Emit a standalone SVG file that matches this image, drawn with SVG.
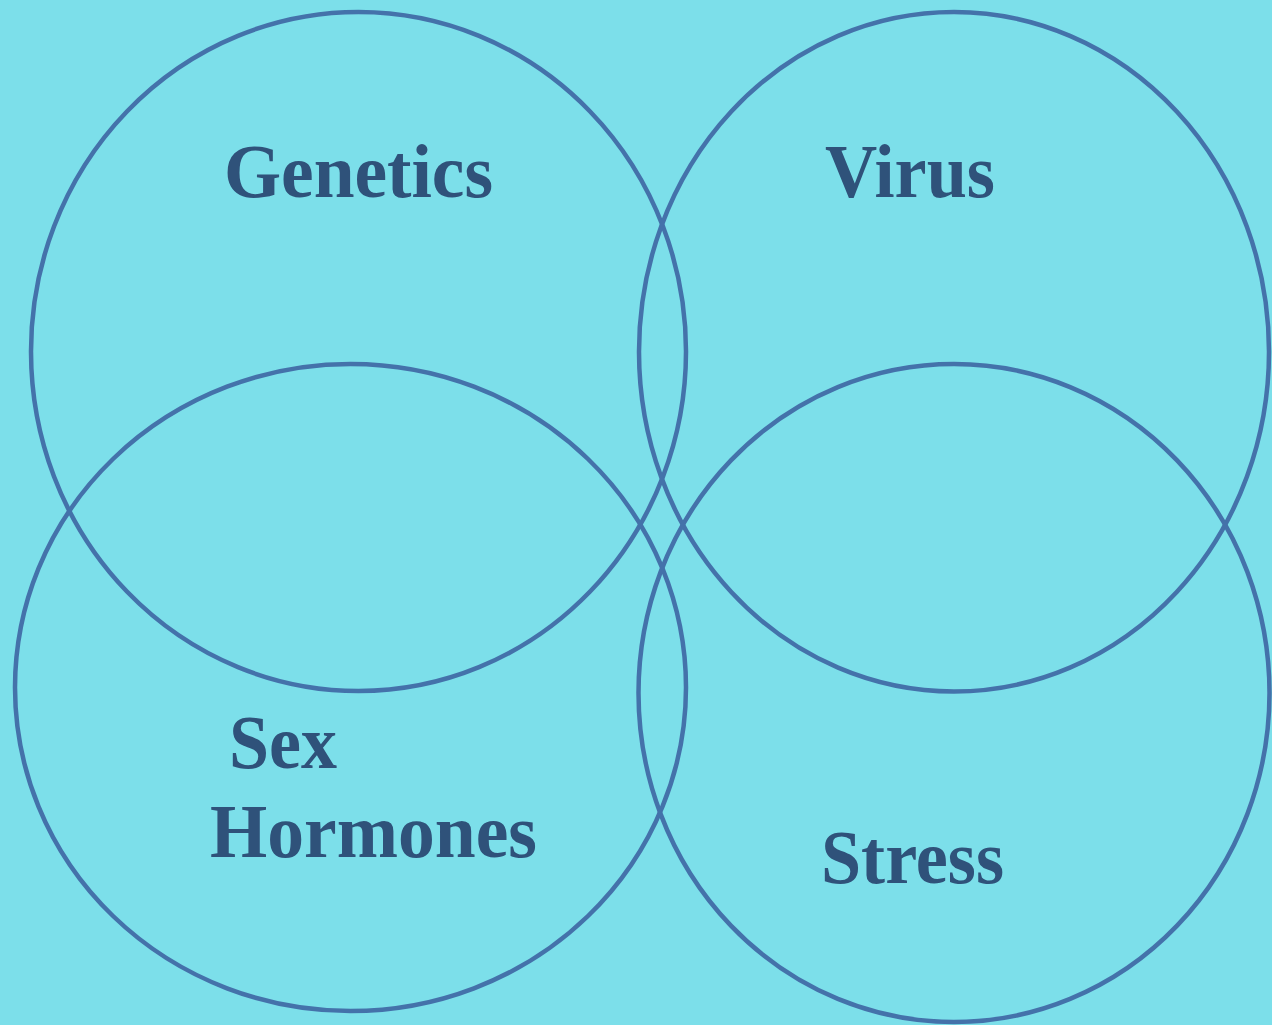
<svg xmlns="http://www.w3.org/2000/svg" width="1272" height="1025" viewBox="0 0 1272 1025">
<style>
.c{fill:none;stroke:#4472AA;stroke-width:4.5}
.t{font-family:"Liberation Serif","Times New Roman",serif;font-weight:bold;font-size:76px;fill:#2F527A}
</style>
<rect width="1272" height="1025" fill="#7CDFEA"/>
<g id="genetics">
<ellipse class="c" cx="358.5" cy="351.5" rx="327.5" ry="339.5"/>
<text class="t" x="224" y="197" textLength="269" lengthAdjust="spacingAndGlyphs">Genetics</text>
</g>
<g id="virus">
<ellipse class="c" cx="954" cy="351.75" rx="315" ry="339.75"/>
<text class="t" x="825" y="197" textLength="170" lengthAdjust="spacingAndGlyphs">Virus</text>
</g>
<g id="sex-hormones">
<ellipse class="c" cx="350.5" cy="687.5" rx="335.5" ry="323.5"/>
<text class="t" x="229" y="768" textLength="108" lengthAdjust="spacingAndGlyphs">Sex</text>
<text class="t" x="210" y="857" textLength="327" lengthAdjust="spacingAndGlyphs">Hormones</text>
</g>
<g id="stress">
<ellipse class="c" cx="954" cy="693" rx="315.5" ry="329"/>
<text class="t" x="821" y="883" textLength="183" lengthAdjust="spacingAndGlyphs">Stress</text>
</g>
<g id="connectors"/>
</svg>
